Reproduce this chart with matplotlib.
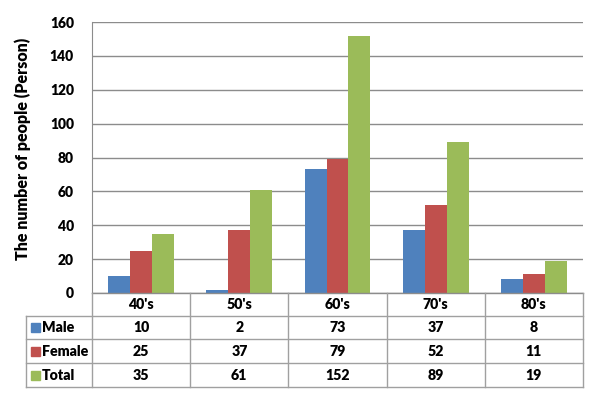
import matplotlib
matplotlib.use("Agg")
import matplotlib.pyplot as plt
import numpy as np

categories = ["40's", "50's", "60's", "70's", "80's"]
series_names = ["Male", "Female", "Total"]
male = [10, 2, 73, 37, 8]
female = [25, 37, 79, 52, 11]
total = [35, 61, 152, 89, 19]
yticks = [0, 20, 40, 60, 80, 100, 120, 140, 160]
ylabel = "The number of people (Person)"

colors = ["#4F81BD", "#C0504D", "#9BBB59"]
font = ["Lato", "DejaVu Sans"]
plt.rcParams['font.family'] = font

W, H = 602, 397
fig = plt.figure(figsize=(W / 100, H / 100), dpi=100)

L, R, T, B = 92, 583, 22, 293
ax = fig.add_axes([L / W, 1 - B / H, (R - L) / W, (B - T) / H])
n = len(categories)
x = np.arange(n)
bw = 0.224
for i, vals in enumerate([male, female, total]):
    ax.bar(x + (i - 1) * bw, vals, width=bw, color=colors[i], zorder=3)
ax.set_xlim(-0.5, n - 0.5)
ax.set_ylim(0, 160)
ax.set_yticks(yticks)
ax.set_yticklabels([str(v) for v in yticks], fontsize=10, fontweight='heavy')
ax.tick_params(axis='y', length=0, pad=13)
ax.set_xticks([])
ax.grid(axis='y', color='#8C8C8C', linewidth=1, zorder=0)
for s in ['top', 'right', 'bottom']:
    ax.spines[s].set_visible(False)
ax.spines['left'].set_color('#8C8C8C')
ax.set_ylabel(ylabel, fontsize=11.5, fontweight='heavy')
ax.yaxis.set_label_coords(-0.125, 0.53)

# data table
TL, TB = 26, 387
tax = fig.add_axes([TL / W, 1 - TB / H, (R - TL) / W, (TB - B) / H])
tax.set_xlim(TL, R)
tax.set_ylim(TB, B)
tax.axis('off')
rows = [293, 316, 339, 363, 387]
cw = (R - L) / n
lc = '#A0A0A0'
tax.plot([L, R], [rows[0], rows[0]], color='#8C8C8C', lw=1, clip_on=False)
for yy in rows[1:]:
    tax.plot([TL, R], [yy, yy], color=lc, lw=1, clip_on=False)
tax.plot([TL, TL], [rows[1], rows[-1]], color=lc, lw=1, clip_on=False)
for k in range(n + 1):
    xx = L + k * cw
    tax.plot([xx, xx], [rows[0], rows[-1]], color=lc, lw=1, clip_on=False)
fs = 10.2
for k, c in enumerate(categories):
    tax.text(L + (k + 0.5) * cw, (rows[0] + rows[1]) / 2, c, ha='center', va='center',
             fontsize=fs, fontweight='heavy')
for r, (name, vals) in enumerate(zip(series_names, [male, female, total])):
    yc = (rows[r + 1] + rows[r + 2]) / 2
    tax.add_patch(plt.Rectangle((31, yc - 4.5), 9, 9, color=colors[r], clip_on=False))
    tax.text(42, yc, name, ha='left', va='center', fontsize=fs, fontweight='heavy')
    for k, v in enumerate(vals):
        tax.text(L + (k + 0.5) * cw, yc, str(v), ha='center', va='center',
                 fontsize=fs, fontweight='heavy')

fig.savefig("out.png", dpi=100)
